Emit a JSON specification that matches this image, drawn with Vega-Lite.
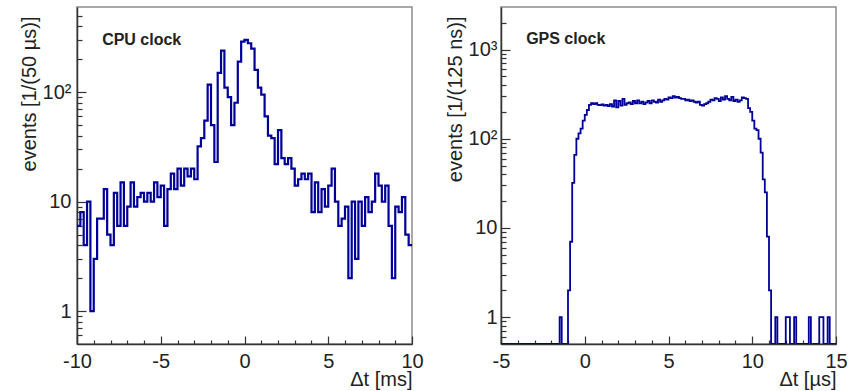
{
  "$schema": "https://vega.github.io/schema/vega-lite/v6.json",
  "padding": {"left": 18, "top": 6, "right": 10, "bottom": 0},
  "spacing": 89,
  "bounds": "flush",
  "config": {
    "font": "Liberation Sans",
    "view": {"stroke": "#8c8c8c", "strokeWidth": 1.5},
    "axis": {
      "labelFont": "Liberation Sans", "titleFont": "Liberation Sans",
      "labelFontSize": 20, "titleFontSize": 20, "titleFontWeight": "normal",
      "labelColor": "#222222", "titleColor": "#222222",
      "domainColor": "#333333", "domainWidth": 1.5,
      "tickColor": "#333333", "tickWidth": 1.2,
      "grid": false, "labelFlush": false, "labelOverlap": false, "labelBound": false
    }
  },
  "hconcat": [
    {
      "width": 335, "height": 337,
      "layer": [
        {
          "data": {"values": [
            {"t": -10, "n": 6}, {"t": -9.8, "n": 8}, {"t": -9.6, "n": 4}, {"t": -9.4, "n": 10}, {"t": -9.2, "n": 1},
            {"t": -9, "n": 3}, {"t": -8.8, "n": 7}, {"t": -8.6, "n": 7}, {"t": -8.4, "n": 13}, {"t": -8.2, "n": 5},
            {"t": -8, "n": 4}, {"t": -7.8, "n": 12}, {"t": -7.6, "n": 6}, {"t": -7.4, "n": 15}, {"t": -7.2, "n": 6},
            {"t": -7, "n": 9}, {"t": -6.8, "n": 15}, {"t": -6.6, "n": 9}, {"t": -6.4, "n": 11}, {"t": -6.2, "n": 12},
            {"t": -6, "n": 10}, {"t": -5.8, "n": 12}, {"t": -5.6, "n": 10}, {"t": -5.4, "n": 15}, {"t": -5.2, "n": 11},
            {"t": -5, "n": 14}, {"t": -4.8, "n": 6}, {"t": -4.6, "n": 13}, {"t": -4.4, "n": 18}, {"t": -4.2, "n": 13},
            {"t": -4, "n": 20}, {"t": -3.8, "n": 14}, {"t": -3.6, "n": 20}, {"t": -3.4, "n": 17}, {"t": -3.2, "n": 20},
            {"t": -3, "n": 16}, {"t": -2.8, "n": 32}, {"t": -2.6, "n": 38}, {"t": -2.4, "n": 55}, {"t": -2.2, "n": 117},
            {"t": -2, "n": 50}, {"t": -1.8, "n": 23}, {"t": -1.6, "n": 150}, {"t": -1.4, "n": 240}, {"t": -1.2, "n": 110},
            {"t": -1, "n": 90}, {"t": -0.8, "n": 50}, {"t": -0.6, "n": 80}, {"t": -0.4, "n": 190}, {"t": -0.2, "n": 290},
            {"t": 0, "n": 300}, {"t": 0.2, "n": 280}, {"t": 0.4, "n": 250}, {"t": 0.6, "n": 160}, {"t": 0.8, "n": 110},
            {"t": 1, "n": 95}, {"t": 1.2, "n": 60}, {"t": 1.4, "n": 40}, {"t": 1.6, "n": 38}, {"t": 1.8, "n": 22},
            {"t": 2, "n": 45}, {"t": 2.2, "n": 25}, {"t": 2.4, "n": 22}, {"t": 2.6, "n": 25}, {"t": 2.8, "n": 20},
            {"t": 3, "n": 14}, {"t": 3.2, "n": 16}, {"t": 3.4, "n": 18}, {"t": 3.6, "n": 16}, {"t": 3.8, "n": 18},
            {"t": 4, "n": 8}, {"t": 4.2, "n": 15}, {"t": 4.4, "n": 8}, {"t": 4.6, "n": 13}, {"t": 4.8, "n": 9},
            {"t": 5, "n": 14}, {"t": 5.2, "n": 20}, {"t": 5.4, "n": 10}, {"t": 5.6, "n": 6}, {"t": 5.8, "n": 7},
            {"t": 6, "n": 9}, {"t": 6.2, "n": 2}, {"t": 6.4, "n": 10}, {"t": 6.6, "n": 3}, {"t": 6.8, "n": 10},
            {"t": 7, "n": 6}, {"t": 7.2, "n": 11}, {"t": 7.4, "n": 8}, {"t": 7.6, "n": 10}, {"t": 7.8, "n": 18},
            {"t": 8, "n": 14}, {"t": 8.2, "n": 10}, {"t": 8.4, "n": 14}, {"t": 8.6, "n": 6}, {"t": 8.8, "n": 2},
            {"t": 9, "n": 9}, {"t": 9.2, "n": 8}, {"t": 9.4, "n": 11}, {"t": 9.6, "n": 5}, {"t": 9.8, "n": 4},
            {"t": 10, "n": 4}
          ]},
          "mark": {"type": "line", "interpolate": "step-after", "color": "#000099", "strokeWidth": 2.2, "clip": true},
          "encoding": {
            "x": {"field": "t", "type": "quantitative", "scale": {"domain": [-10, 10], "nice": false},
              "axis": {"values": [-10, -5, 0, 5, 10], "tickSize": -8, "labelExpr": "'' + datum.value", "labelPadding": 15,
                "title": "Δt [ms]", "titleAnchor": "end", "titlePadding": -2}},
            "y": {"field": "n", "type": "quantitative", "scale": {"type": "log", "domain": [0.5, 600], "nice": false, "clamp": true},
              "axis": {"values": [1, 10, 100], "tickSize": -9, "labelPadding": 15,
                "labelExpr": "datum.value == 1 ? '1' : datum.value == 10 ? '10' : datum.value == 100 ? '10²' : '10³'",
                "title": "events [1/(50 µs)]", "titleAnchor": "end", "titleY": 9, "titlePadding": 3}}
          }
        },
        {
          "data": {"values": [{"label": "CPU clock", "t": -8.5, "n": 297}]},
          "mark": {"type": "text", "align": "left", "baseline": "middle", "fontWeight": "bold", "fontSize": 16, "font": "Liberation Sans", "color": "#222222"},
          "encoding": {
            "x": {"field": "t", "type": "quantitative", "scale": {"domain": [-10, 10], "nice": false},
              "axis": {"orient": "bottom", "values": [-9, -8, -7, -6, -4, -3, -2, -1, 1, 2, 3, 4, 6, 7, 8, 9], "tickSize": -4, "labels": false, "domain": false, "title": null}},
            "y": {"field": "n", "type": "quantitative", "scale": {"type": "log", "domain": [0.5, 600], "nice": false, "clamp": true},
              "axis": {"orient": "left", "values": [0.6, 0.7, 0.8, 0.9, 2, 3, 4, 5, 6, 7, 8, 9, 20, 30, 40, 50, 60, 70, 80, 90, 200, 300, 400, 500], "tickSize": -5, "labels": false, "domain": false, "title": null}},
            "text": {"field": "label"}
          }
        }
      ],
      "resolve": {"axis": {"x": "independent", "y": "independent"}}
    },
    {
      "width": 335, "height": 337,
      "layer": [
        {
          "data": {"values": [
            {"t": -5, "n": 0}, {"t": -4.875, "n": 0}, {"t": -4.75, "n": 0}, {"t": -4.625, "n": 0}, {"t": -4.5, "n": 0},
            {"t": -4.375, "n": 0}, {"t": -4.25, "n": 0}, {"t": -4.125, "n": 0}, {"t": -4, "n": 0}, {"t": -3.875, "n": 0},
            {"t": -3.75, "n": 0}, {"t": -3.625, "n": 0}, {"t": -3.5, "n": 0}, {"t": -3.375, "n": 0}, {"t": -3.25, "n": 0},
            {"t": -3.125, "n": 0}, {"t": -3, "n": 0}, {"t": -2.875, "n": 0}, {"t": -2.75, "n": 0}, {"t": -2.625, "n": 0},
            {"t": -2.5, "n": 0}, {"t": -2.375, "n": 0}, {"t": -2.25, "n": 0}, {"t": -2.125, "n": 0}, {"t": -2, "n": 0},
            {"t": -1.875, "n": 0}, {"t": -1.75, "n": 0}, {"t": -1.625, "n": 0}, {"t": -1.5, "n": 1}, {"t": -1.375, "n": 0},
            {"t": -1.25, "n": 0}, {"t": -1.125, "n": 0}, {"t": -1, "n": 2}, {"t": -0.875, "n": 7}, {"t": -0.75, "n": 32},
            {"t": -0.625, "n": 66}, {"t": -0.5, "n": 100}, {"t": -0.375, "n": 115}, {"t": -0.25, "n": 130}, {"t": -0.125, "n": 160},
            {"t": 0, "n": 185}, {"t": 0.125, "n": 210}, {"t": 0.25, "n": 240}, {"t": 0.375, "n": 250},
            {"t": 0.5, "n": 245}, {"t": 0.625, "n": 250}, {"t": 0.75, "n": 240}, {"t": 0.875, "n": 238}, {"t": 1, "n": 242},
            {"t": 1.125, "n": 235}, {"t": 1.25, "n": 240}, {"t": 1.375, "n": 232}, {"t": 1.5, "n": 245},
            {"t": 1.625, "n": 230}, {"t": 1.75, "n": 270}, {"t": 1.875, "n": 225}, {"t": 2, "n": 265}, {"t": 2.125, "n": 235},
            {"t": 2.25, "n": 280}, {"t": 2.375, "n": 240}, {"t": 2.5, "n": 250},
            {"t": 2.625, "n": 255}, {"t": 2.75, "n": 245}, {"t": 2.875, "n": 265}, {"t": 3, "n": 250}, {"t": 3.125, "n": 270},
            {"t": 3.25, "n": 250}, {"t": 3.375, "n": 260}, {"t": 3.5, "n": 245}, {"t": 3.625, "n": 255}, {"t": 3.75, "n": 265},
            {"t": 3.875, "n": 250}, {"t": 4, "n": 270}, {"t": 4.125, "n": 260}, {"t": 4.25, "n": 255}, {"t": 4.375, "n": 275},
            {"t": 4.5, "n": 260},
            {"t": 4.625, "n": 270}, {"t": 4.75, "n": 280}, {"t": 4.875, "n": 275}, {"t": 5, "n": 290}, {"t": 5.125, "n": 285},
            {"t": 5.25, "n": 300}, {"t": 5.375, "n": 290}, {"t": 5.5, "n": 295}, {"t": 5.625, "n": 285}, {"t": 5.75, "n": 280},
            {"t": 5.875, "n": 280}, {"t": 6, "n": 270}, {"t": 6.125, "n": 275}, {"t": 6.25, "n": 265}, {"t": 6.375, "n": 270},
            {"t": 6.5, "n": 260}, {"t": 6.625, "n": 255}, {"t": 6.75, "n": 260}, {"t": 6.875, "n": 240}, {"t": 7, "n": 235},
            {"t": 7.125, "n": 245},
            {"t": 7.25, "n": 250}, {"t": 7.375, "n": 260}, {"t": 7.5, "n": 275}, {"t": 7.625, "n": 270}, {"t": 7.75, "n": 285},
            {"t": 7.875, "n": 280}, {"t": 8, "n": 265}, {"t": 8.125, "n": 290}, {"t": 8.25, "n": 275}, {"t": 8.375, "n": 300},
            {"t": 8.5, "n": 280},
            {"t": 8.625, "n": 270}, {"t": 8.75, "n": 295}, {"t": 8.875, "n": 265}, {"t": 9, "n": 275}, {"t": 9.125, "n": 260},
            {"t": 9.25, "n": 270}, {"t": 9.375, "n": 290}, {"t": 9.5, "n": 285},
            {"t": 9.625, "n": 280}, {"t": 9.75, "n": 220}, {"t": 9.875, "n": 200}, {"t": 10, "n": 160}, {"t": 10.125, "n": 130},
            {"t": 10.25, "n": 125}, {"t": 10.375, "n": 100}, {"t": 10.5, "n": 70}, {"t": 10.625, "n": 35}, {"t": 10.75, "n": 25},
            {"t": 10.875, "n": 8}, {"t": 11, "n": 2}, {"t": 11.125, "n": 0}, {"t": 11.25, "n": 0}, {"t": 11.375, "n": 1},
            {"t": 11.5, "n": 0}, {"t": 11.625, "n": 0}, {"t": 11.75, "n": 0}, {"t": 11.875, "n": 0}, {"t": 12, "n": 1},
            {"t": 12.125, "n": 1}, {"t": 12.25, "n": 0}, {"t": 12.375, "n": 0}, {"t": 12.5, "n": 1}, {"t": 12.625, "n": 0},
            {"t": 12.75, "n": 0}, {"t": 12.875, "n": 0}, {"t": 13, "n": 0}, {"t": 13.125, "n": 0}, {"t": 13.25, "n": 0},
            {"t": 13.375, "n": 1}, {"t": 13.5, "n": 0}, {"t": 13.625, "n": 0}, {"t": 13.75, "n": 0}, {"t": 13.875, "n": 0},
            {"t": 14, "n": 1}, {"t": 14.125, "n": 1}, {"t": 14.25, "n": 0}, {"t": 14.375, "n": 0}, {"t": 14.5, "n": 1},
            {"t": 14.625, "n": 0}, {"t": 14.75, "n": 0}, {"t": 14.875, "n": 0}, {"t": 15, "n": 0}
          ]},
          "mark": {"type": "line", "interpolate": "step-after", "color": "#000099", "strokeWidth": 1.8, "clip": true, "invalid": "show"},
          "encoding": {
            "x": {"field": "t", "type": "quantitative", "scale": {"domain": [-5, 15], "nice": false},
              "axis": {"values": [-5, 0, 5, 10, 15], "tickSize": -8, "labelExpr": "'' + datum.value", "labelPadding": 15,
                "title": "Δt [µs]", "titleAnchor": "end", "titlePadding": -2}},
            "y": {"field": "n", "type": "quantitative", "scale": {"type": "log", "domain": [0.5, 3000], "nice": false, "clamp": true},
              "axis": {"values": [1, 10, 100, 1000], "tickSize": -9, "labelPadding": 13,
                "labelExpr": "datum.value == 1 ? '1' : datum.value == 10 ? '10' : datum.value == 100 ? '10²' : '10³'",
                "title": "events [1/(125 ns)]", "titleAnchor": "end", "titleY": 9, "titlePadding": 3}}
          }
        },
        {
          "data": {"values": [{"label": "GPS clock", "t": -3.5, "n": 1320}]},
          "mark": {"type": "text", "align": "left", "baseline": "middle", "fontWeight": "bold", "fontSize": 16, "font": "Liberation Sans", "color": "#222222"},
          "encoding": {
            "x": {"field": "t", "type": "quantitative", "scale": {"domain": [-5, 15], "nice": false},
              "axis": {"orient": "bottom", "values": [-4, -3, -2, -1, 1, 2, 3, 4, 6, 7, 8, 9, 11, 12, 13, 14], "tickSize": -4, "labels": false, "domain": false, "title": null}},
            "y": {"field": "n", "type": "quantitative", "scale": {"type": "log", "domain": [0.5, 3000], "nice": false, "clamp": true},
              "axis": {"orient": "left", "values": [0.6, 0.7, 0.8, 0.9, 2, 3, 4, 5, 6, 7, 8, 9, 20, 30, 40, 50, 60, 70, 80, 90, 200, 300, 400, 500, 600, 700, 800, 900, 2000], "tickSize": -5, "labels": false, "domain": false, "title": null}},
            "text": {"field": "label"}
          }
        }
      ],
      "resolve": {"axis": {"x": "independent", "y": "independent"}}
    }
  ]
}
